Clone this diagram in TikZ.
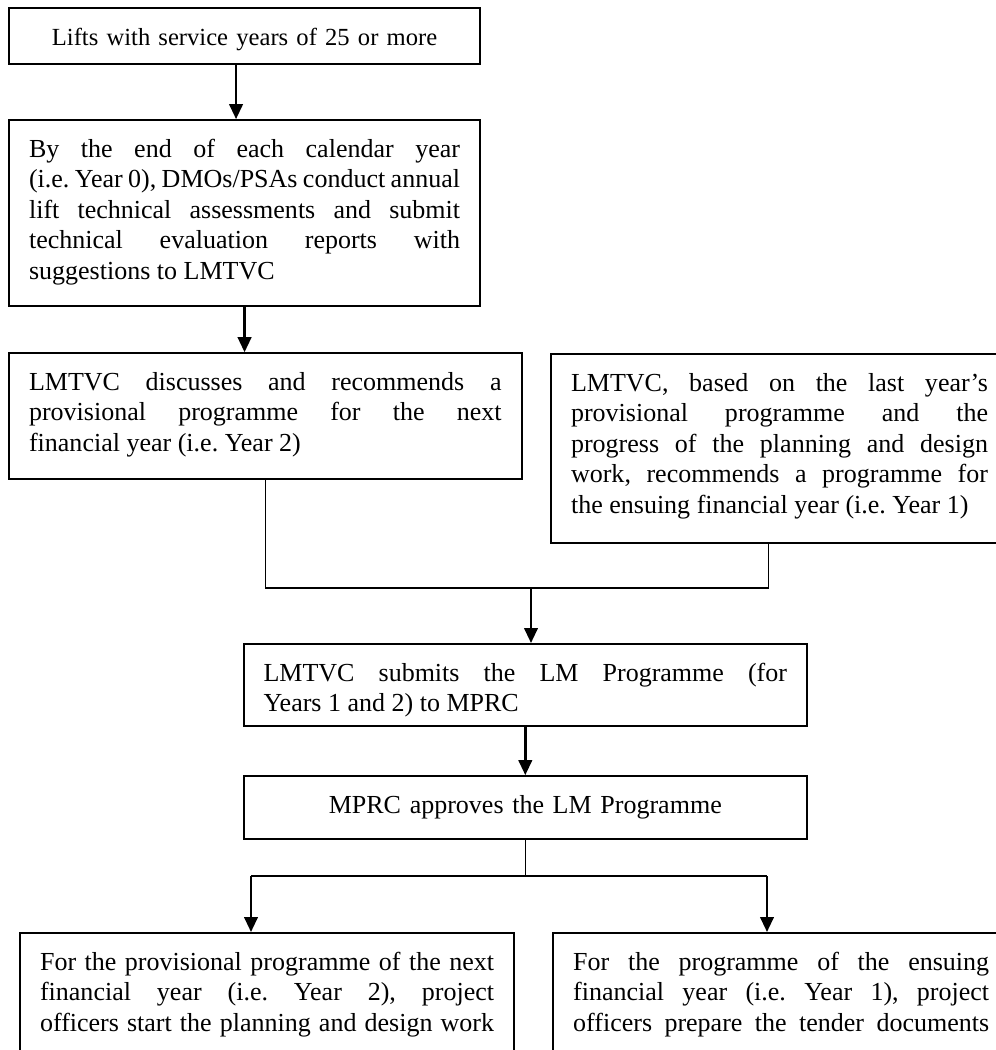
\documentclass[tikz,border=0pt]{standalone}
\usepackage{fontspec}
\setmainfont{Liberation Serif}
\usepackage{tikz}
\usetikzlibrary{arrows.meta, positioning, calc}
\frenchspacing
\newcommand{\flowfont}{\fontsize{14.8}{17.4}\selectfont
  \tolerance=10000\hyphenpenalty=10000}
\tikzset{
  flowbox/.style={rectangle, draw=black, line width=1.2pt,
    inner xsep=0.4cm, inner ysep=0.38cm, text height=0.36cm,
    align=justify, font=\flowfont},
  arrow/.style={-{Triangle[width=0.27cm, length=0.3cm]}, line width=1.4pt, color=black},
  line/.style={line width=0.6pt, color=black},
  thickline/.style={line width=1.3pt, color=black}
}

\begin{document}
\begin{tikzpicture}
  \useasboundingbox (0,0) rectangle (19.92,-21.0);
  \clip (0,0) rectangle (19.92,-21.0);

  % ── Left column: assessment → provisional programme ─────────────────────
  \node[flowbox, align=center, text width=8.62cm, text depth=0cm,
    font=\fontsize{14}{17.4}\selectfont, anchor=north west] (lifts) at (0.16,-0.14)
    {Lifts with service years of 25 or more};
  \node[flowbox, text width=8.62cm, text depth=2.6cm, below=1.08cm of lifts] (assess)
    {By the end of each calendar year\linebreak
     (i.e. Year 0), DMOs/PSAs conduct annual\linebreak
     lift technical assessments and submit\linebreak
     technical evaluation reports with\linebreak
     suggestions to LMTVC};
  \node[flowbox, text width=9.45cm, text depth=1.4cm,
    below=0.9cm of assess.south west, anchor=north west] (provis)
    {LMTVC discusses and recommends a\linebreak
     provisional programme for the next\linebreak
     financial year (i.e. Year 2)};

  % ── Right column: programme for the ensuing year ────────────────────────
  \node[flowbox, text width=8.34cm, text depth=2.66cm, anchor=north west] (ensue)
    at (11.0,-7.06)
    {LMTVC, based on the last year’s\linebreak
     provisional programme and the\linebreak
     progress of the planning and design\linebreak
     work, recommends a programme for\linebreak
     the ensuing financial year (i.e. Year 1)};

  % ── Middle: submission and approval ─────────────────────────────────────
  \node[flowbox, text width=10.47cm, text depth=0.52cm, anchor=north west] (submit)
    at (4.85,-12.86)
    {LMTVC submits the LM Programme (for\linebreak
     Years 1 and 2) to MPRC};
  \node[flowbox, align=center, text width=10.47cm, text depth=0.14cm,
    below=0.96cm of submit] (approve)
    {MPRC approves the LM Programme};

  % ── Bottom row: project officers ────────────────────────────────────────
  \node[flowbox, text width=9.08cm, text depth=1.88cm, anchor=north west] (planning)
    at (0.38,-18.64)
    {For the provisional programme of the next\linebreak
     financial year (i.e. Year 2), project\linebreak
     officers start the planning and design work\linebreak};
  \node[flowbox, text width=8.32cm, text depth=1.88cm,
    right=0.74cm of planning.north east, anchor=north west] (tender)
    {For the programme of the ensuing\linebreak
     financial year (i.e. Year 1), project\linebreak
     officers prepare the tender documents\linebreak};

  % ── Top arrows ──────────────────────────────────────────────────────────
  \coordinate (ltap) at ([xshift=-0.17cm]lifts.south);
  \draw[arrow] (ltap) -- (ltap |- assess.north);
  \draw[arrow] (assess.south) -- (assess.south |- provis.north);

  % ── Merge of the two programmes ─────────────────────────────────────────
  \coordinate (merge) at (10.62,-11.76);
  \coordinate (etap)  at ([xshift=-0.23cm]ensue.south);
  \draw[line]  (provis.south) |- (merge) -| (etap);
  \draw[arrow] (merge) -- (merge |- submit.north);
  \draw[arrow] (submit) -- (approve);

  % ── Fork to the project officers ────────────────────────────────────────
  \coordinate (forkL) at (5.02,-17.52);
  \coordinate (forkR) at (15.34,-17.52);
  \draw[line]      (approve.south) -- (approve.south |- forkL);
  \draw[thickline] (forkL) -- (forkR);
  \draw[arrow] (forkL) -- (forkL |- planning.north);
  \draw[arrow] (forkR) -- (forkR |- tender.north);
\end{tikzpicture}
\end{document}
